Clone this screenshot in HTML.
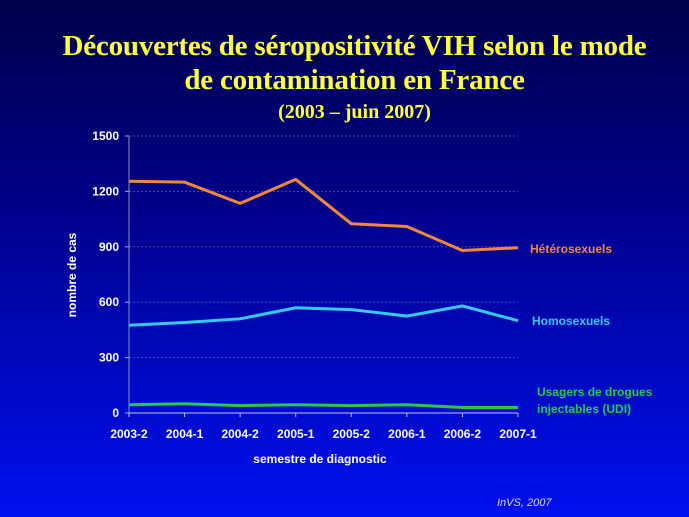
<!DOCTYPE html>
<html><head><meta charset="utf-8"><style>
body{margin:0;width:689px;height:517px;overflow:hidden;background:linear-gradient(#00004a 0%,#00008a 40%,#0010f0 100%);font-family:"Liberation Sans",sans-serif;}
.t{position:absolute;left:10px;width:689px;text-align:center;color:#ffff33;font-family:"Liberation Serif",serif;font-weight:bold;white-space:nowrap;}
</style></head><body>
<div class="t" style="top:29px;font-size:29px;line-height:34px;letter-spacing:-0.2px">Découvertes de séropositivité VIH selon le mode<br>de contamination en France</div>
<div class="t" style="top:101px;font-size:20px">(2003 – juin 2007)</div>
<svg id="c" width="689" height="517" style="position:absolute;left:0;top:0"></svg>
<script>
const categories=["2003-2","2004-1","2004-2","2005-1","2005-2","2006-1","2006-2","2007-1"];
const hetero=[1255,1250,1135,1265,1025,1010,880,895];
const homo=[475,490,510,570,560,525,580,500];
const udi=[45,50,40,45,40,45,30,30];
const yTicks=[0,300,600,900,1200,1500];
const svg=document.getElementById('c');const NS='http://www.w3.org/2000/svg';
const x0=129,x1=518,y0=413,y1=136;
const xs=i=>x0+i*(x1-x0)/(categories.length-1);
const ys=v=>y0-v*(y0-y1)/1500;
function el(t,a,p){const e=document.createElementNS(NS,t);for(const k in a)e.setAttribute(k,a[k]);(p||svg).appendChild(e);return e;}
yTicks.forEach(v=>{
 if(v>0){const g=el('line',{x1:x0,x2:x1,y1:ys(v),y2:ys(v),stroke:'#4050b0','stroke-dasharray':'2,2','stroke-width':1});
 
 }
 const t=el('text',{x:x0-10,y:ys(v)+4,'text-anchor':'end',fill:'#fff','font-size':12,'font-weight':'bold'});t.textContent=v;
 
 
 el('line',{x1:x0-4,x2:x0,y1:ys(v),y2:ys(v),stroke:'#aab',});
});
const ax=el('line',{x1:x0,x2:x0,y1:y0,y2:y1,stroke:'#8890c0'});


const axx=el('line',{x1:x0,x2:x1,y1:y0,y2:y0,stroke:'#c0c4e0'});


categories.forEach((c,i)=>{
 el('line',{x1:xs(i),x2:xs(i),y1:y0,y2:y0+4,stroke:'#c0c4e0'});
 const t=el('text',{x:xs(i),y:y0+25,'text-anchor':'middle',fill:'#fff','font-size':12,'font-weight':'bold'});t.textContent=c;
 
 
});
const xt=el('text',{x:320,y:463,'text-anchor':'middle',fill:'#fff','font-size':12,'font-weight':'bold'});xt.textContent='semestre de diagnostic';


const yt=el('text',{x:0,y:0,transform:'translate(76,275) rotate(-90)','text-anchor':'middle',fill:'#fff','font-size':12,'font-weight':'bold'});yt.textContent='nombre de cas';


function series(d,col,name){const p=el('polyline',{points:d.map((v,i)=>xs(i)+','+ys(v)).join(' '),fill:'none',stroke:col,'stroke-width':3});
 
 }
series(hetero,'#f0883a','line-heterosexuels');
series(homo,'#33ccff','line-homosexuels');
series(udi,'#22cc44','line-udi');
function lab(txt,x,y,col,name){const t=el('text',{x:x,y:y,fill:col,'font-size':12,'font-weight':'bold'});t.textContent=txt;
 
 }
lab('Hétérosexuels',530,253,'#f0883a','label-heterosexuels');
lab('Homosexuels',532,325,'#33ccff','label-homosexuels');
lab('Usagers de drogues',537,396,'#22cc44','label-udi-1');
lab('injectables (UDI)',537,413,'#22cc44','label-udi-2');
const s=el('text',{x:497,y:506,fill:'#ddd','font-size':11,'font-style':'italic'});s.textContent='InVS, 2007';


</script>
</body></html>
